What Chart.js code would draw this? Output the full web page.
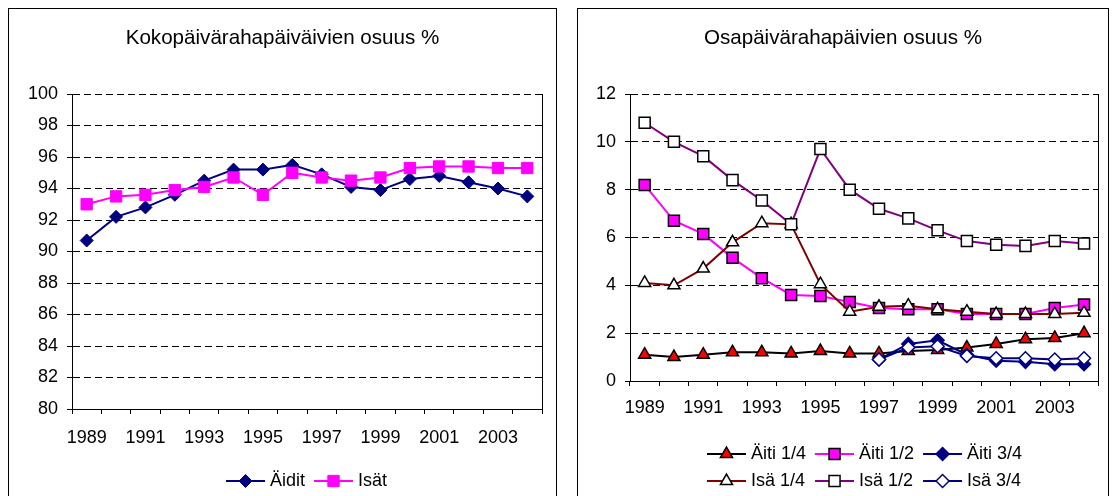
<!DOCTYPE html>
<html><head><meta charset="utf-8">
<script src="https://cdn.jsdelivr.net/npm/chart.js@4.4.1/dist/chart.umd.min.js"></script>
<style>
html,body{margin:0;padding:0;background:#fff;width:1114px;height:496px;overflow:hidden;}
.box{position:absolute;top:8px;border:1px solid #000;height:500px;background:#fff;}
#boxL{left:8px;width:547px;}
#boxR{left:577px;width:530px;}
canvas{display:block;}
</style></head><body>
<div class="box" id="boxL"><canvas id="cL" width="547" height="487"></canvas></div>
<div class="box" id="boxR"><canvas id="cR" width="530" height="487"></canvas></div>
<script>
// ---------- data ----------
const years = ['1989','1990','1991','1992','1993','1994','1995','1996','1997','1998','1999','2000','2001','2002','2003','2004'];
const xTickLabels = ['1989','','1991','','1993','','1995','','1997','','1999','','2001','','2003',''];

const titleLeft = 'Kokopäivärahapäiväivien osuus %';
const titleRight = 'Osapäivärahapäivien osuus %';

const aidit = [90.7, 92.2, 92.8, 93.6, 94.5, 95.2, 95.2, 95.5, 94.9, 94.1, 93.9, 94.6, 94.8, 94.4, 94.0, 93.5];
const isat  = [93.0, 93.5, 93.6, 93.9, 94.1, 94.7, 93.6, 95.0, 94.7, 94.5, 94.7, 95.3, 95.4, 95.4, 95.3, 95.3];

const aiti14 = [1.1, 1.0, 1.1, 1.2, 1.2, 1.15, 1.25, 1.15, 1.15, 1.25, 1.3, 1.4, 1.55, 1.75, 1.8, 2.0];
const aiti12 = [8.2, 6.7, 6.15, 5.15, 4.3, 3.6, 3.55, 3.3, 3.05, 3.0, 3.0, 2.8, 2.8, 2.8, 3.05, 3.2];
const aiti34 = [null, null, null, null, null, null, null, null, 0.9, 1.55, 1.7, 1.1, 0.85, 0.8, 0.7, 0.7];
const isa14  = [4.1, 4.0, 4.7, 5.8, 6.6, 6.55, 4.05, 2.9, 3.1, 3.15, 3.0, 2.9, 2.8, 2.8, 2.8, 2.85];
const isa12  = [10.8, 10.0, 9.4, 8.4, 7.55, 6.55, 9.7, 8.0, 7.2, 6.8, 6.3, 5.85, 5.7, 5.65, 5.85, 5.75];
const isa34  = [null, null, null, null, null, null, null, null, 0.9, 1.4, 1.45, 1.05, 0.95, 0.95, 0.9, 0.95];

const leftAxis = {min: 80, max: 100, step: 2};
const rightAxis = {min: 0, max: 12, step: 2};

// ---------- styling ----------
const FONT = '"Liberation Sans", Arial, sans-serif';
const TICK_SIZE = 18;
const TITLE_SIZE = 20.6;

function fallbackDrawPoint(ctx, o, x, y) {
  const r = o.radius;
  ctx.beginPath();
  if (o.pointStyle === 'triangle') {
    ctx.moveTo(x, y - r);
    ctx.lineTo(x + 0.866 * r, y + 0.5 * r);
    ctx.lineTo(x - 0.866 * r, y + 0.5 * r);
    ctx.closePath();
  } else if (o.pointStyle === 'rect') {
    const s = r * Math.SQRT1_2;
    ctx.rect(x - s, y - s, 2 * s, 2 * s);
  } else if (o.pointStyle === 'rectRot') {
    ctx.moveTo(x - r, y); ctx.lineTo(x, y - r); ctx.lineTo(x + r, y); ctx.lineTo(x, y + r); ctx.closePath();
  } else {
    ctx.arc(x, y, r, 0, Math.PI * 2);
  }
  ctx.fill();
  if (o.borderWidth > 0) ctx.stroke();
}

const excelLegend = {
  id: 'excelLegend',
  afterDraw(chart, args, opts) {
    if (!opts || !opts.rows) return;
    const ctx = chart.ctx;
    const ds = chart.data.datasets;
    ctx.save();
    ctx.font = opts.fontSize + 'px ' + FONT;
    const itemW = i => opts.textOffset + ctx.measureText(ds[i].label).width;
    const rows = opts.rows;
    const ncols = Math.max(...rows.map(r => r.length));
    let maxW = 0;
    rows.forEach(r => r.forEach(i => { maxW = Math.max(maxW, itemW(i)); }));
    const colW = maxW + opts.gap;
    let lastW = 0;
    rows.forEach(r => { if (r.length === ncols) lastW = Math.max(lastW, itemW(r[ncols - 1])); });
    const blockW = (ncols - 1) * colW + lastW;
    const ca = chart.chartArea;
    const x0 = Math.round((ca.left + ca.right) / 2 - blockW / 2);
    const dp = (window.Chart && Chart.helpers && Chart.helpers.drawPoint) ? Chart.helpers.drawPoint : fallbackDrawPoint;
    rows.forEach((r, ri) => {
      const y = chart.height - opts.bottom - (rows.length - 1 - ri) * opts.rowH;
      r.forEach((i, ci) => {
        const d = ds[i];
        const x = x0 + ci * colW;
        ctx.setLineDash([]);
        ctx.strokeStyle = d.borderColor;
        ctx.lineWidth = d.borderWidth;
        ctx.beginPath(); ctx.moveTo(x, y); ctx.lineTo(x + opts.lineLen, y); ctx.stroke();
        ctx.fillStyle = d.pointBackgroundColor;
        ctx.strokeStyle = d.pointBorderColor;
        ctx.lineWidth = d.pointBorderWidth;
        dp(ctx, {pointStyle: d.pointStyle, radius: d.pointRadius, rotation: 0, borderWidth: d.pointBorderWidth}, x + opts.lineLen / 2, y);
        ctx.fillStyle = '#000';
        ctx.textBaseline = 'middle';
        ctx.textAlign = 'left';
        ctx.fillText(d.label, x + opts.textOffset, y);
      });
    });
    ctx.restore();
  }
};

function makeOptions(cfg) {
  return {
    responsive: false,
    animation: false,
    devicePixelRatio: 1,
    layout: {padding: {left: 0, right: 0, top: 0, bottom: cfg.padBottom}},
    plugins: {
      legend: {display: false},
      tooltip: {enabled: false},
      title: {
        display: true, text: cfg.title, color: '#000',
        font: {family: FONT, size: TITLE_SIZE, weight: 'normal'},
        padding: {top: 17, bottom: 43.3}
      },
      excelLegend: cfg.legend
    },
    scales: {
      x: {
        type: 'category',
        offset: true,
        grid: {display: true, drawOnChartArea: false, drawTicks: true, tickLength: 5, offset: true, color: '#000', tickColor: '#000', lineWidth: 1},
        border: {display: true, color: '#000', width: 1},
        ticks: {
          autoSkip: false, maxRotation: 0, minRotation: 0, padding: cfg.xLabelPad, color: '#000',
          font: {family: FONT, size: TICK_SIZE},
          callback: (v, i) => xTickLabels[i]
        },
        afterFit: s => { s.height = 40; }
      },
      y: {
        min: cfg.axis.min, max: cfg.axis.max,
        ticks: {stepSize: cfg.axis.step, padding: 9, color: '#000', font: {family: FONT, size: TICK_SIZE}},
        grid: {color: '#000', lineWidth: 1, tickLength: 5, drawTicks: true, tickColor: '#000', tickBorderDash: []},
        border: {display: true, color: '#000', width: 1, dash: [7, 4]},
        afterFit: s => { s.width = cfg.yWidth; }
      },
      y2: {
        position: 'right',
        grid: {drawOnChartArea: false, drawTicks: false},
        ticks: {display: false},
        border: {display: true, color: '#000', width: 1},
        afterFit: s => { s.width = cfg.rightGap; }
      }
    }
  };
}

function ds(label, data, line, fill, border, style, radius, order, bw, pbw) {
  return {
    label, data, order,
    borderColor: line, backgroundColor: fill, borderWidth: bw,
    pointBackgroundColor: fill, pointBorderColor: border, pointBorderWidth: pbw,
    pointStyle: style, pointRadius: radius, pointHoverRadius: radius,
    tension: 0, spanGaps: false, fill: false
  };
}

new Chart(document.getElementById('cL'), {
  type: 'line',
  data: {
    labels: years,
    datasets: [
      ds('Äidit', aidit, '#000080', '#000080', '#000080', 'rectRot', 6.5, 2, 2, 1),
      ds('Isät', isat, '#FF00FF', '#FF00FF', '#FF00FF', 'rect', 8, 1, 2, 1)
    ]
  },
  options: makeOptions({
    title: titleLeft, axis: leftAxis, yWidth: 63, rightGap: 14, padBottom: 47, xLabelPad: 13.5,
    legend: {rows: [[0, 1]], fontSize: TICK_SIZE, textOffset: 44, lineLen: 39, gap: 9, bottom: 15, rowH: 27}
  }),
  plugins: [excelLegend]
});

new Chart(document.getElementById('cR'), {
  type: 'line',
  data: {
    labels: years,
    datasets: [
      ds('Äiti 1/4', aiti14, '#000000', '#FF0000', '#000000', 'triangle', 7, 6, 2, 1.5),
      ds('Äiti 1/2', aiti12, '#FF00FF', '#FF00FF', '#000000', 'rect', 7.8, 5, 2, 1.5),
      ds('Äiti 3/4', aiti34, '#000080', '#000080', '#000080', 'rectRot', 6.5, 4, 2, 1.5),
      ds('Isä 1/4', isa14, '#800000', '#FFFFFF', '#000000', 'triangle', 7, 3, 2, 1.5),
      ds('Isä 1/2', isa12, '#800080', '#FFFFFF', '#000000', 'rect', 7.8, 2, 2, 1.5),
      ds('Isä 3/4', isa34, '#000080', '#FFFFFF', '#000080', 'rectRot', 6.5, 1, 2, 1.5)
    ]
  },
  options: makeOptions({
    title: titleRight, axis: rightAxis, yWidth: 52, rightGap: 1, padBottom: 75, xLabelPad: 11,
    legend: {rows: [[0, 1, 2], [3, 4, 5]], fontSize: TICK_SIZE, textOffset: 44, lineLen: 39, gap: 9, bottom: 15, rowH: 27}
  }),
  plugins: [excelLegend]
});
</script>
</body></html>
